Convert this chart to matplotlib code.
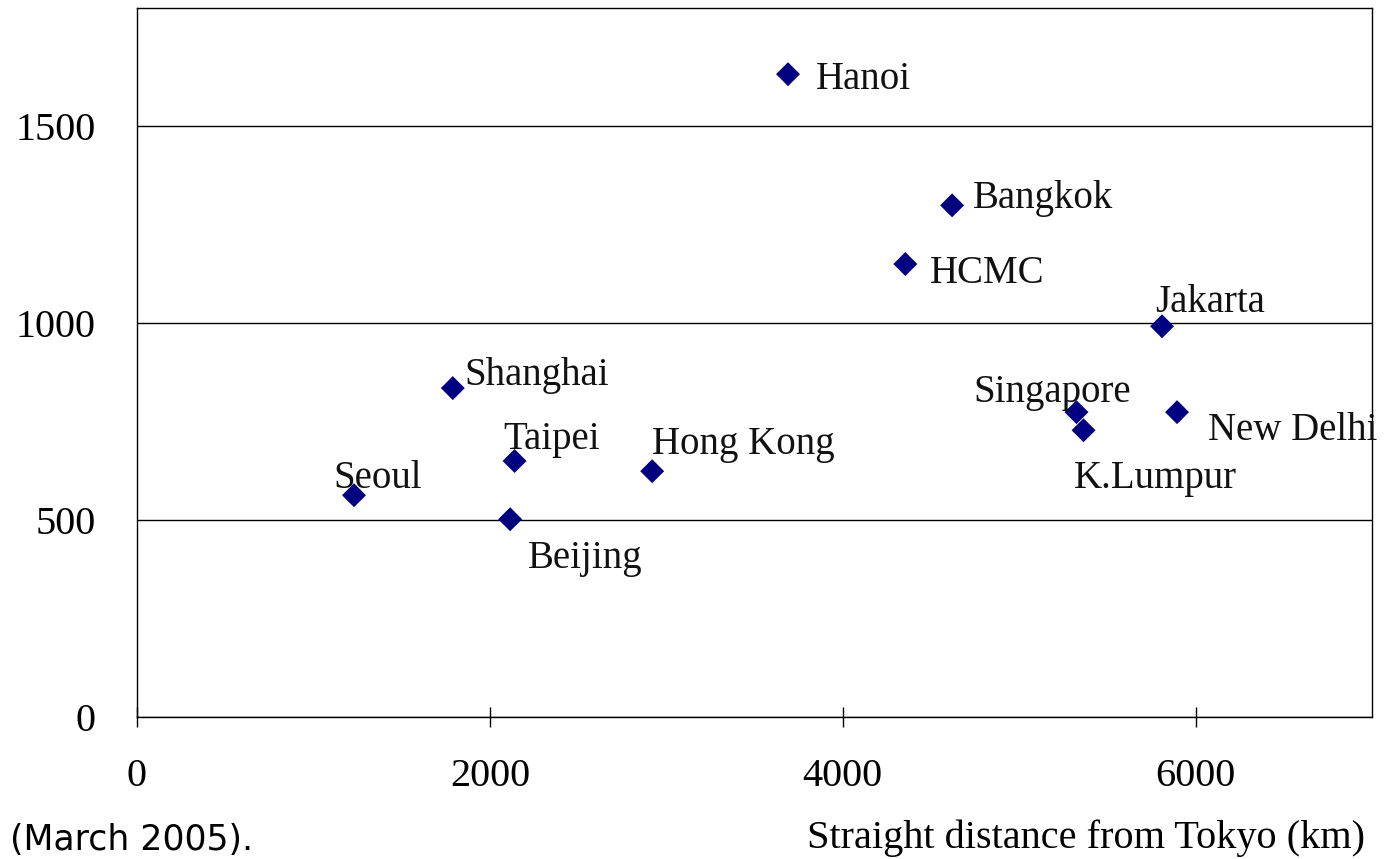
import matplotlib.pyplot as plt

# Cities: straight distance from Tokyo (km) vs. value
cities = ["Seoul", "Shanghai", "Taipei", "Beijing", "Hong Kong", "Hanoi",
          "Bangkok", "HCMC", "Jakarta", "Singapore", "K.Lumpur", "New Delhi"]
distance_km = [1230, 1790, 2140, 2115, 2920, 3690,
               4620, 4355, 5810, 5325, 5365, 5895]
values = [563, 835, 650, 502, 624, 1632,
          1299, 1150, 992, 774, 728, 774]

# label offsets in pixels (dx, dy) relative to each point
label_dx = [-21, 12, -11, 18, 0, 28, 21, 25, -7, -103, -10, 31]
label_dy = [17, 13, 21, -39, 27, -5, 7, -9, 24, 20, -48, -18]

W, H = 1387, 859
fig = plt.figure(figsize=(W / 100, H / 100), dpi=100)
ax = fig.add_axes([137 / W, 1 - 717 / H, (1372 - 137) / W, (717 - 8) / H])

serif = "Liberation Serif"

ax.scatter(distance_km, values, marker="D", s=12.2 ** 2, color="#000080",
           edgecolors="none", zorder=3)

for name, x, y, dx, dy in zip(cities, distance_km, values, label_dx, label_dy):
    ax.annotate(name, (x, y), xytext=(dx, dy), textcoords="offset pixels",
                ha="left", va="center", fontsize=28, family=serif,
                color="#111111", annotation_clip=False)

ax.set_xlim(0, 7000)
ax.set_ylim(0, 1800)
ax.set_xticks([0, 2000, 4000, 6000])
ax.set_yticks([0, 500, 1000, 1500])
ax.yaxis.grid(True, color="black", linewidth=1.0)
ax.set_axisbelow(True)

ax.tick_params(axis="x", direction="inout", length=15, width=1, pad=22,
               labelsize=29)
ax.tick_params(axis="y", length=0, pad=30, labelsize=29)
for lbl in ax.get_xticklabels() + ax.get_yticklabels():
    lbl.set_family(serif)
for lbl in ax.get_yticklabels():
    lbl.set_va("center_baseline")

for sp in ax.spines.values():
    sp.set_color("black")
    sp.set_linewidth(1.0)

fig.text(1365 / W, 1 - 838 / H, "Straight distance from Tokyo (km)",
         ha="right", va="center", fontsize=29, family=serif)
fig.text(10 / W, 1 - 857 / H, "(March 2005).", ha="left", va="bottom",
         fontsize=25, family="DejaVu Sans")

fig.savefig("out.png", dpi=100)
